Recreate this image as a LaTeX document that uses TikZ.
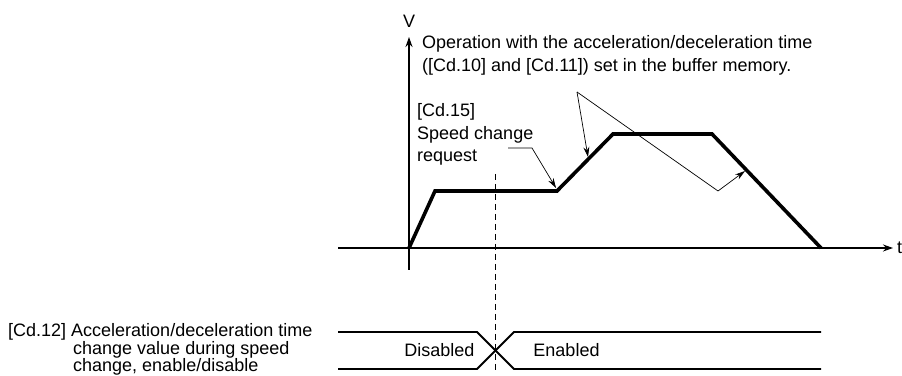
\documentclass[tikz,border=0pt]{standalone}
\usepackage{fontspec}
\setmainfont{Liberation Sans}
\usetikzlibrary{arrows.meta}

\begin{document}
\begin{tikzpicture}[x=100pt, y=100pt,
    txt/.style={font=\fontsize{18}{22}\selectfont, inner sep=0pt},
    axis/.style={line width=1.3pt, -{Stealth[length=10pt,width=7pt]}},
    speed/.style={line width=3.6pt, line join=miter},
    lead/.style={line width=0.7pt},
    leadtip/.style={lead, -{Stealth[length=10pt,width=6pt]}},
    signal/.style={line width=1.8pt}]
          \useasboundingbox (0,0) rectangle (9.02,3.76);
          \coordinate (vbot) at (4.09,1.06);
          \coordinate (vtop) at (4.09,3.39);
          \coordinate (tleft) at (3.38,1.28);
          \coordinate (tright) at (8.93,1.28);
          \draw[axis] (vbot) -- (vtop);
          \draw[axis] (tleft) -- (tright);
          \node[txt] (vlabel) at (4.09,3.55) {V};
          \node[txt, anchor=base west] (tlabel) at (8.97,1.22) {t};
          \coordinate (p0) at (4.09,1.28);
          \coordinate (p1) at (4.35,1.85);
          \coordinate (p2) at (5.57,1.85);
          \coordinate (p3) at (6.13,2.42);
          \coordinate (p4) at (7.12,2.42);
          \coordinate (p5) at (8.21,1.28);
          \draw[speed] (p0) -- (p1) -- (p2) -- (p3) -- (p4) -- (p5);
          \coordinate (dtop) at (4.95,2.02);
          \coordinate (dbot) at (4.95,0.06);
          \draw[line width=0.8pt, dash pattern=on 6pt off 4pt] (dtop) -- (dbot);
          \node[txt, anchor=base west] (op1) at (4.22,3.27)
            {Operation with the acceleration/deceleration time};
          \node[txt, anchor=base west] (op2) at (4.22,3.04)
            {([Cd.10] and [Cd.11]) set in the buffer memory.};
          \coordinate (opv) at (5.77,2.84);
          \coordinate (opbend) at (7.18,1.85);
          \coordinate (optip1) at (5.88,2.19);
          \coordinate (optip2) at (7.45,2.05);
          \draw[leadtip] (opv) -- (optip1);
          \draw[leadtip] (opv) -- (opbend) -- (optip2);
          \node[txt, anchor=base west] (req1) at (4.17,2.59) {[Cd.15]};
          \node[txt, anchor=base west] (req2) at (4.17,2.36) {Speed change};
          \node[txt, anchor=base west] (req3) at (4.17,2.14) {request};
          \coordinate (reqs) at (5.08,2.28);
          \coordinate (reqbend) at (5.32,2.28);
          \coordinate (reqtip) at (5.56,1.88);
          \draw[leadtip] (reqs) -- (reqbend) -- (reqtip);
          \node[txt, anchor=base west] (cd1) at (0.08,0.395)
            {[Cd.12] Acceleration/deceleration time};
          \node[txt, anchor=base west] (cd2) at (0.73,0.215)
            {change value during speed};
          \node[txt, anchor=base west] (cd3) at (0.73,0.045)
            {change, enable/disable};
          \draw[signal] (3.38,0.44) -- (4.77,0.44) -- (5.14,0.07) -- (8.21,0.07);
          \draw[signal] (3.38,0.07) -- (4.77,0.07) -- (5.14,0.44) -- (8.21,0.44);
          \node[txt] (off) at (4.395,0.26) {Disabled};
          \node[txt] (on) at (5.665,0.26) {Enabled};
        \end{tikzpicture}
\end{document}
